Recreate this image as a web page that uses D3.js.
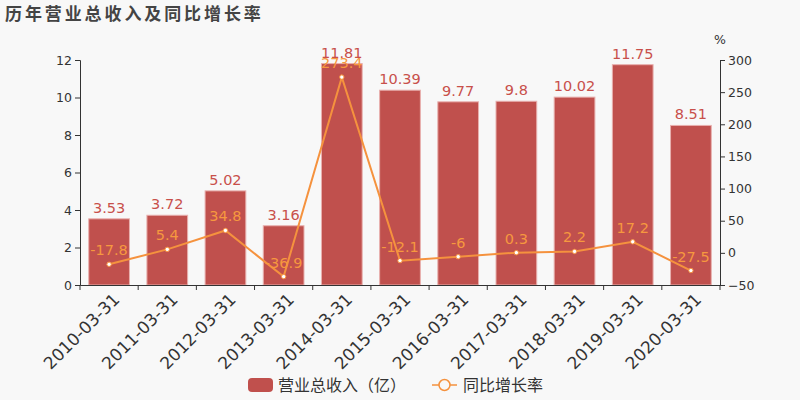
<!DOCTYPE html>
<html><head><meta charset="utf-8">
<script src="https://cdn.jsdelivr.net/npm/d3@7"></script>
<style>body{margin:0;background:#f8f8f8;}svg{display:block;font-family:"DejaVu Sans",sans-serif;}</style>
</head><body>
<script>
const categories = ["2010-03-31","2011-03-31","2012-03-31","2013-03-31","2014-03-31","2015-03-31","2016-03-31","2017-03-31","2018-03-31","2019-03-31","2020-03-31"];
const revenue = [3.53,3.72,5.02,3.16,11.81,10.39,9.77,9.8,10.02,11.75,8.51];
const growth = [-17.8,5.4,34.8,-36.9,273.4,-12.1,-6,0.3,2.2,17.2,-27.5];
const leftTicks = [0,2,4,6,8,10,12];
const rightTicks = [-50,0,50,100,150,200,250,300];

const W=800,H=400, L=80, R=720, T=60, B=285;
const svg=d3.select("body").append("svg").attr("width",W).attr("height",H);
svg.append("rect").attr("width",W).attr("height",H).attr("fill","#f8f8f8");

const xb=d3.scaleBand().domain(categories).range([L,R]);
const yL=d3.scaleLinear().domain([0,12]).range([B,T]);
const yR=d3.scaleLinear().domain([-50,300]).range([B,T]);

svg.append("text").attr("x",5).attr("y",20).text("历年营业总收入及同比增长率")
  .attr("font-size",17).attr("font-weight","bold").attr("fill","#444").attr("letter-spacing",2.9)
  .attr("font-family","'Noto Sans CJK SC',sans-serif");

// bars
svg.append("g").selectAll("rect").data(revenue).join("rect")
  .attr("x",(d,i)=>xb(categories[i])+xb.bandwidth()*0.15)
  .attr("width",xb.bandwidth()*0.7)
  .attr("y",d=>yL(d)).attr("height",d=>B-yL(d))
  .attr("fill","#c0504d").attr("stroke","#e8b0ae").attr("stroke-width",1);

svg.append("g").selectAll("text").data(revenue).join("text")
  .attr("x",(d,i)=>xb(categories[i])+xb.bandwidth()/2).attr("y",d=>yL(d)-6)
  .attr("text-anchor","middle").attr("font-size",14.5).attr("fill","#c8504b").text(d=>d);

// axes
const axL=svg.append("g").attr("transform",`translate(${L},0)`).call(d3.axisLeft(yL).tickValues(leftTicks).tickSize(5).tickPadding(3));
const axR=svg.append("g").attr("transform",`translate(${R},0)`).call(d3.axisRight(yR).tickValues(rightTicks).tickSize(5).tickPadding(3));
const axX=svg.append("g").attr("transform",`translate(0,${B})`).call(d3.axisBottom(xb).tickSize(0).tickFormat(""));
[axL,axR].forEach(a=>{a.selectAll("text").attr("font-size",12.5).attr("fill","#333").attr("font-family","'DejaVu Sans',sans-serif");a.selectAll("line,path").attr("stroke","#333");});
axX.select("path").attr("stroke","#333");
// x ticks at band boundaries
const bounds=categories.map(c=>xb(c)).concat([R]);
svg.append("g").selectAll("line").data(bounds).join("line")
  .attr("x1",d=>d).attr("x2",d=>d).attr("y1",B).attr("y2",B+5).attr("stroke","#333");
svg.append("g").selectAll("text").data(categories).join("text")
  .attr("transform",d=>`translate(${xb(d)+xb.bandwidth()/2+3},${B+7}) rotate(-45)`)
  .attr("text-anchor","end").attr("dy","0.71em").attr("font-size",17).attr("fill","#333").text(d=>d);

svg.append("text").attr("x",720).attr("y",44).attr("text-anchor","middle").attr("font-size",12.5).attr("fill","#333").text("%");

// line
const cx=i=>xb(categories[i])+xb.bandwidth()/2;
svg.append("path").datum(growth).attr("fill","none").attr("stroke","#f5923e").attr("stroke-width",2)
  .attr("d",d3.line().x((d,i)=>cx(i)).y(d=>yR(d)));
svg.append("g").selectAll("circle").data(growth).join("circle")
  .attr("cx",(d,i)=>cx(i)).attr("cy",d=>yR(d)).attr("r",2.2).attr("fill","#fff").attr("stroke","#f5923e").attr("stroke-width",1);
svg.append("g").selectAll("text").data(growth).join("text")
  .attr("x",(d,i)=>cx(i)).attr("y",d=>yR(d)-9)
  .attr("text-anchor","middle").attr("font-size",14.5).attr("fill","#f6983f").text(d=>d);

// legend
const lg=svg.append("g");
lg.append("rect").attr("x",248).attr("y",378).attr("width",25).attr("height",14).attr("rx",4).attr("fill","#c0504d");
lg.append("text").attr("x",278).attr("y",391).attr("font-size",16).attr("fill","#333").attr("font-family","'Noto Sans CJK SC',sans-serif").text("营业总收入（亿）");
lg.append("line").attr("x1",432).attr("x2",457).attr("y1",385).attr("y2",385).attr("stroke","#f5923e").attr("stroke-width",1.5);
lg.append("circle").attr("cx",444.5).attr("cy",385).attr("r",5.5).attr("fill","#f8f8f8").attr("stroke","#f5923e").attr("stroke-width",1.5);
lg.append("text").attr("x",463).attr("y",391).attr("font-size",16).attr("fill","#333").attr("font-family","'Noto Sans CJK SC',sans-serif").text("同比增长率");
</script>
</body></html>
